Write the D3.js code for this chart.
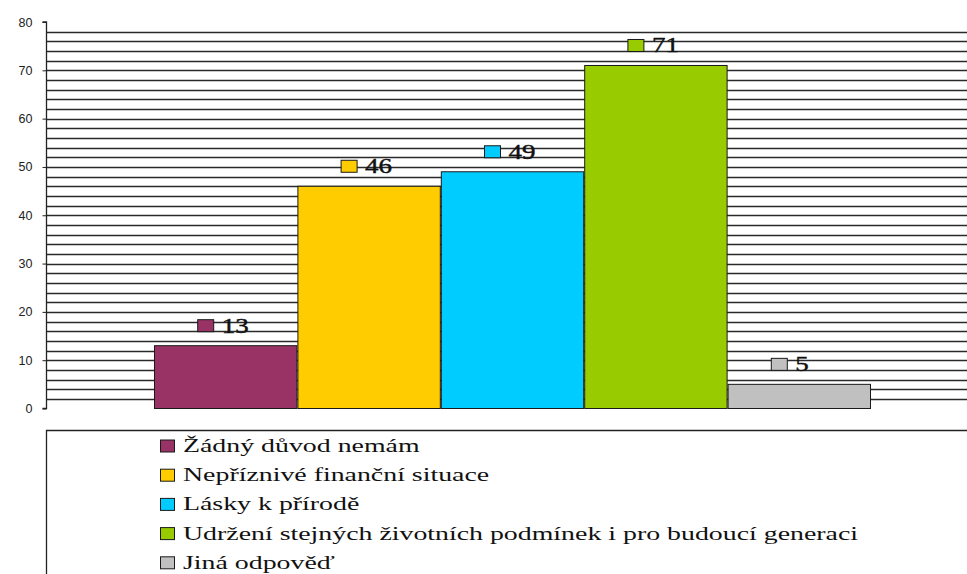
<!DOCTYPE html>
<html>
<head>
<meta charset="utf-8">
<script src="https://cdn.jsdelivr.net/npm/d3@7"></script>
<style>
  body { margin: 0; background: #fff; }
  svg { display: block; }
  .serif { font-family: "Liberation Serif", "DejaVu Serif", "Noto Serif", Tinos, "Nimbus Roman", FreeSerif, "Times New Roman", Times, serif; }
  .sans { font-family: "Liberation Sans", Arial, sans-serif; }
</style>
</head>
<body>
<svg id="chart" width="967" height="574"></svg>
<script>
// data
var categories = [
  'Žádný důvod nemám',
  'Nepříznivé finanční situace',
  'Lásky k přírodě',
  'Udržení stejných životních podmínek i pro budoucí generaci',
  'Jiná odpověď'
];
var values = [13, 46, 49, 71, 5];
var colors = ['#993366', '#ffcc00', '#00ccff', '#99cc00', '#c0c0c0'];
var yTicks = [0, 10, 20, 30, 40, 50, 60, 70, 80];

var svg = d3.select('#chart');

var axisX = 46.5;
var y = d3.scaleLinear().domain([0, 80]).range([408.5, 22]);
var x = d3.scaleBand().domain(categories).range([154, 871]).padding(0);

// horizontal grid every 2 units
var gridVals = d3.range(2, 80, 2);
svg.append('g').selectAll('line')
  .data(gridVals)
  .enter().append('line')
  .attr('x1', axisX).attr('x2', 967)
  .attr('y1', function(d) { return Math.round(y(d)) + 0.5; })
  .attr('y2', function(d) { return Math.round(y(d)) + 0.5; })
  .attr('stroke', '#2a2a2a')
  .attr('stroke-width', 1.3);

// y axis
var yAxis = d3.axisLeft(y).tickValues(yTicks).tickSize(4).tickPadding(10);
var ga = svg.append('g')
  .attr('transform', 'translate(' + axisX + ',0)')
  .call(yAxis);
ga.attr('font-family', null);
ga.select('.domain').attr('stroke', '#222').attr('stroke-width', 1.3)
  .attr('d', 'M-4,' + y(80) + 'H0V' + y(0) + 'H-4');
ga.selectAll('.tick line').attr('stroke', '#222');
ga.selectAll('.tick text')
  .attr('class', 'sans')
  .attr('font-size', 12.5)
  .attr('fill', '#222');

// bars
svg.append('g').selectAll('rect')
  .data(values)
  .enter().append('rect')
  .attr('x', function(d, i) { return x(categories[i]) + 0.5; })
  .attr('width', x.bandwidth() - 1)
  .attr('y', function(d) { return y(d); })
  .attr('height', function(d) { return y(0) - y(d); })
  .attr('fill', function(d, i) { return colors[i]; })
  .attr('stroke', '#1a1a1a')
  .attr('stroke-width', 1);

// value labels with little colour keys
var lab = svg.append('g').selectAll('g')
  .data(values)
  .enter().append('g')
  .attr('transform', function(d, i) {
    return 'translate(' + (x(categories[i]) + x.bandwidth() / 2) + ',' + (y(d) - 20) + ')';
  });
lab.append('rect')
  .attr('x', -28).attr('y', -6)
  .attr('width', 16).attr('height', 12)
  .attr('fill', function(d, i) { return colors[i]; })
  .attr('stroke', '#1a1a1a');
lab.append('text')
  .attr('class', 'serif')
  .attr('x', -4).attr('y', 7)
  .attr('font-size', 20)
  .attr('stroke', '#111').attr('stroke-width', 0.4)
  .attr('fill', '#111')
  .attr('textLength', function(d) { return String(d).length * 13.5; })
  .attr('lengthAdjust', 'spacingAndGlyphs')
  .text(function(d) { return d; });

// legend box
svg.append('path')
  .attr('d', 'M' + axisX + ',574V430.5H967')
  .attr('fill', 'none')
  .attr('stroke', '#222')
  .attr('stroke-width', 1.3);

var leg = svg.append('g').selectAll('g')
  .data(categories)
  .enter().append('g')
  .attr('transform', function(d, i) { return 'translate(160,' + (446 + i * 29.2) + ')'; });
leg.append('rect')
  .attr('x', 0.5).attr('y', -6)
  .attr('width', 14).attr('height', 12)
  .attr('fill', function(d, i) { return colors[i]; })
  .attr('stroke', '#1a1a1a');
var legText = leg.append('text')
  .attr('class', 'serif')
  .attr('x', 23).attr('y', 6)
  .attr('font-size', 18)
  .attr('fill', '#111')
  .text(function(d) { return d; });

// the original face is much wider than Times; stretch to the same widths
var longest = d3.max(legText.nodes(), function(n) { return n.getComputedTextLength(); });
var stretch = 675 / longest;
legText.each(function() {
  var w = this.getComputedTextLength();
  d3.select(this).attr('textLength', w * stretch).attr('lengthAdjust', 'spacingAndGlyphs');
});
</script>
</body>
</html>
